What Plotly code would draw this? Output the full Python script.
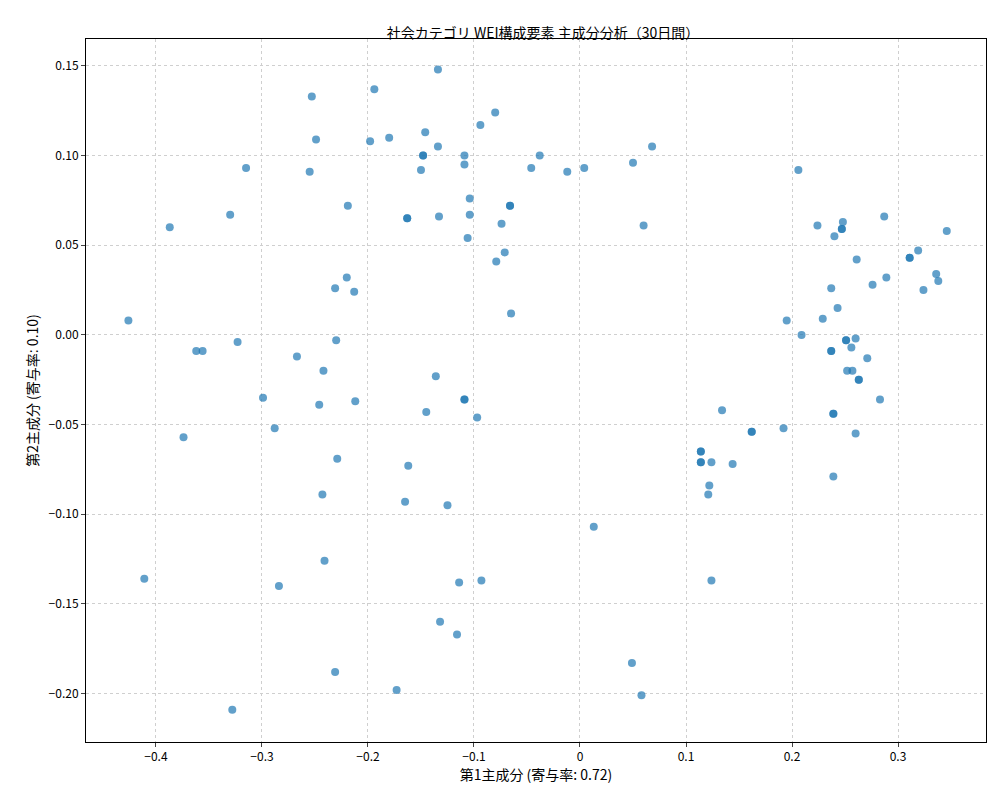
import plotly.graph_objects as go

pc1 = [-0.426,-0.387,-0.411,-0.374,-0.362,-0.356,-0.330,-0.323,-0.315,-0.328,-0.299,-0.288,-0.284,-0.267,
       -0.253,-0.249,-0.255,-0.246,-0.242,-0.243,-0.241,-0.231,-0.230,-0.229,-0.231,-0.220,-0.219,-0.213,-0.212,
       -0.194,-0.198,-0.180,-0.173,-0.163,-0.163,-0.162,-0.165,-0.150,-0.148,-0.148,-0.146,-0.145,-0.134,-0.134,-0.133,
       -0.136,-0.132,-0.125,-0.116,-0.114,-0.109,-0.109,-0.109,-0.109,-0.104,-0.104,-0.106,-0.097,-0.094,-0.093,
       -0.080,-0.079,-0.074,-0.071,-0.066,-0.066,-0.065,-0.046,-0.038,-0.012,0.004,0.013,0.050,0.060,0.068,0.049,0.058,
       0.114,0.114,0.114,0.114,0.124,0.122,0.121,0.124,0.134,0.162,0.162,0.144,0.192,0.195,0.206,0.209,0.224,0.229,
       0.237,0.237,0.237,0.239,0.239,0.239,0.240,0.243,0.248,0.247,0.247,0.251,0.251,0.252,0.256,0.257,0.260,0.260,
       0.261,0.263,0.263,0.271,0.276,0.283,0.287,0.289,0.311,0.311,0.319,0.324,0.336,0.338,0.346]
pc2 = [0.008,0.060,-0.136,-0.057,-0.009,-0.009,0.067,-0.004,0.093,-0.209,-0.035,-0.052,-0.140,-0.012,
       0.133,0.109,0.091,-0.039,-0.020,-0.089,-0.126,0.026,-0.003,-0.069,-0.188,0.032,0.072,0.024,-0.037,
       0.137,0.108,0.110,-0.198,0.065,0.065,-0.073,-0.093,0.092,0.100,0.100,0.113,-0.043,0.148,0.105,0.066,
       -0.023,-0.160,-0.095,-0.167,-0.138,0.100,0.095,-0.036,-0.036,0.076,0.067,0.054,-0.046,0.117,-0.137,
       0.124,0.041,0.062,0.046,0.072,0.072,0.012,0.093,0.100,0.091,0.093,-0.107,0.096,0.061,0.105,-0.183,-0.201,
       -0.065,-0.065,-0.071,-0.071,-0.071,-0.084,-0.089,-0.137,-0.042,-0.054,-0.054,-0.072,-0.052,0.008,0.092,0.000,0.061,0.009,
       0.026,-0.009,-0.009,-0.044,-0.044,-0.079,0.055,0.015,0.063,0.059,0.059,-0.003,-0.003,-0.020,-0.007,-0.020,-0.002,-0.055,
       0.042,-0.025,-0.025,-0.013,0.028,-0.036,0.066,0.032,0.043,0.043,0.047,0.025,0.034,0.030,0.058]

fig = go.Figure(go.Scatter(x=pc1, y=pc2, mode="markers",
    marker=dict(color="#1f77b4", size=8, opacity=0.7, line=dict(width=0))))
ax = dict(showline=True, linecolor="black", linewidth=1, mirror=True, ticks="outside", ticklen=4,
          gridcolor="#cfcfcf", gridwidth=0.8, griddash="dot", zeroline=False, tickfont=dict(size=12))
fig.update_layout(
    width=1000, height=800, plot_bgcolor="white", paper_bgcolor="white",
    font=dict(family="Noto Sans CJK JP", color="black", size=12),
    margin=dict(l=78, r=22, t=31, b=66, autoexpand=False), showlegend=False,
    title=dict(text="社会カテゴリ WEI構成要素 主成分分析（30日間）", x=0.535, xanchor="center", y=0.975, font=dict(size=14)),
    xaxis=dict(ax, title=dict(text="第1主成分 (寄与率: 0.72)", standoff=6), range=[-0.466, 0.383],
               tickvals=[-0.4,-0.3,-0.2,-0.1,0,0.1,0.2,0.3], ticktext=["−0.4","−0.3","−0.2","−0.1","0","0.1","0.2","0.3"]),
    yaxis=dict(ax, title=dict(text="第2主成分 (寄与率: 0.10)", standoff=6), range=[-0.227, 0.165],
               tickvals=[-0.2,-0.15,-0.1,-0.05,0,0.05,0.1,0.15],
               ticktext=["−0.20","−0.15","−0.10","−0.05","0.00","0.05","0.10","0.15"]),
)
fig.write_html("out.html")
